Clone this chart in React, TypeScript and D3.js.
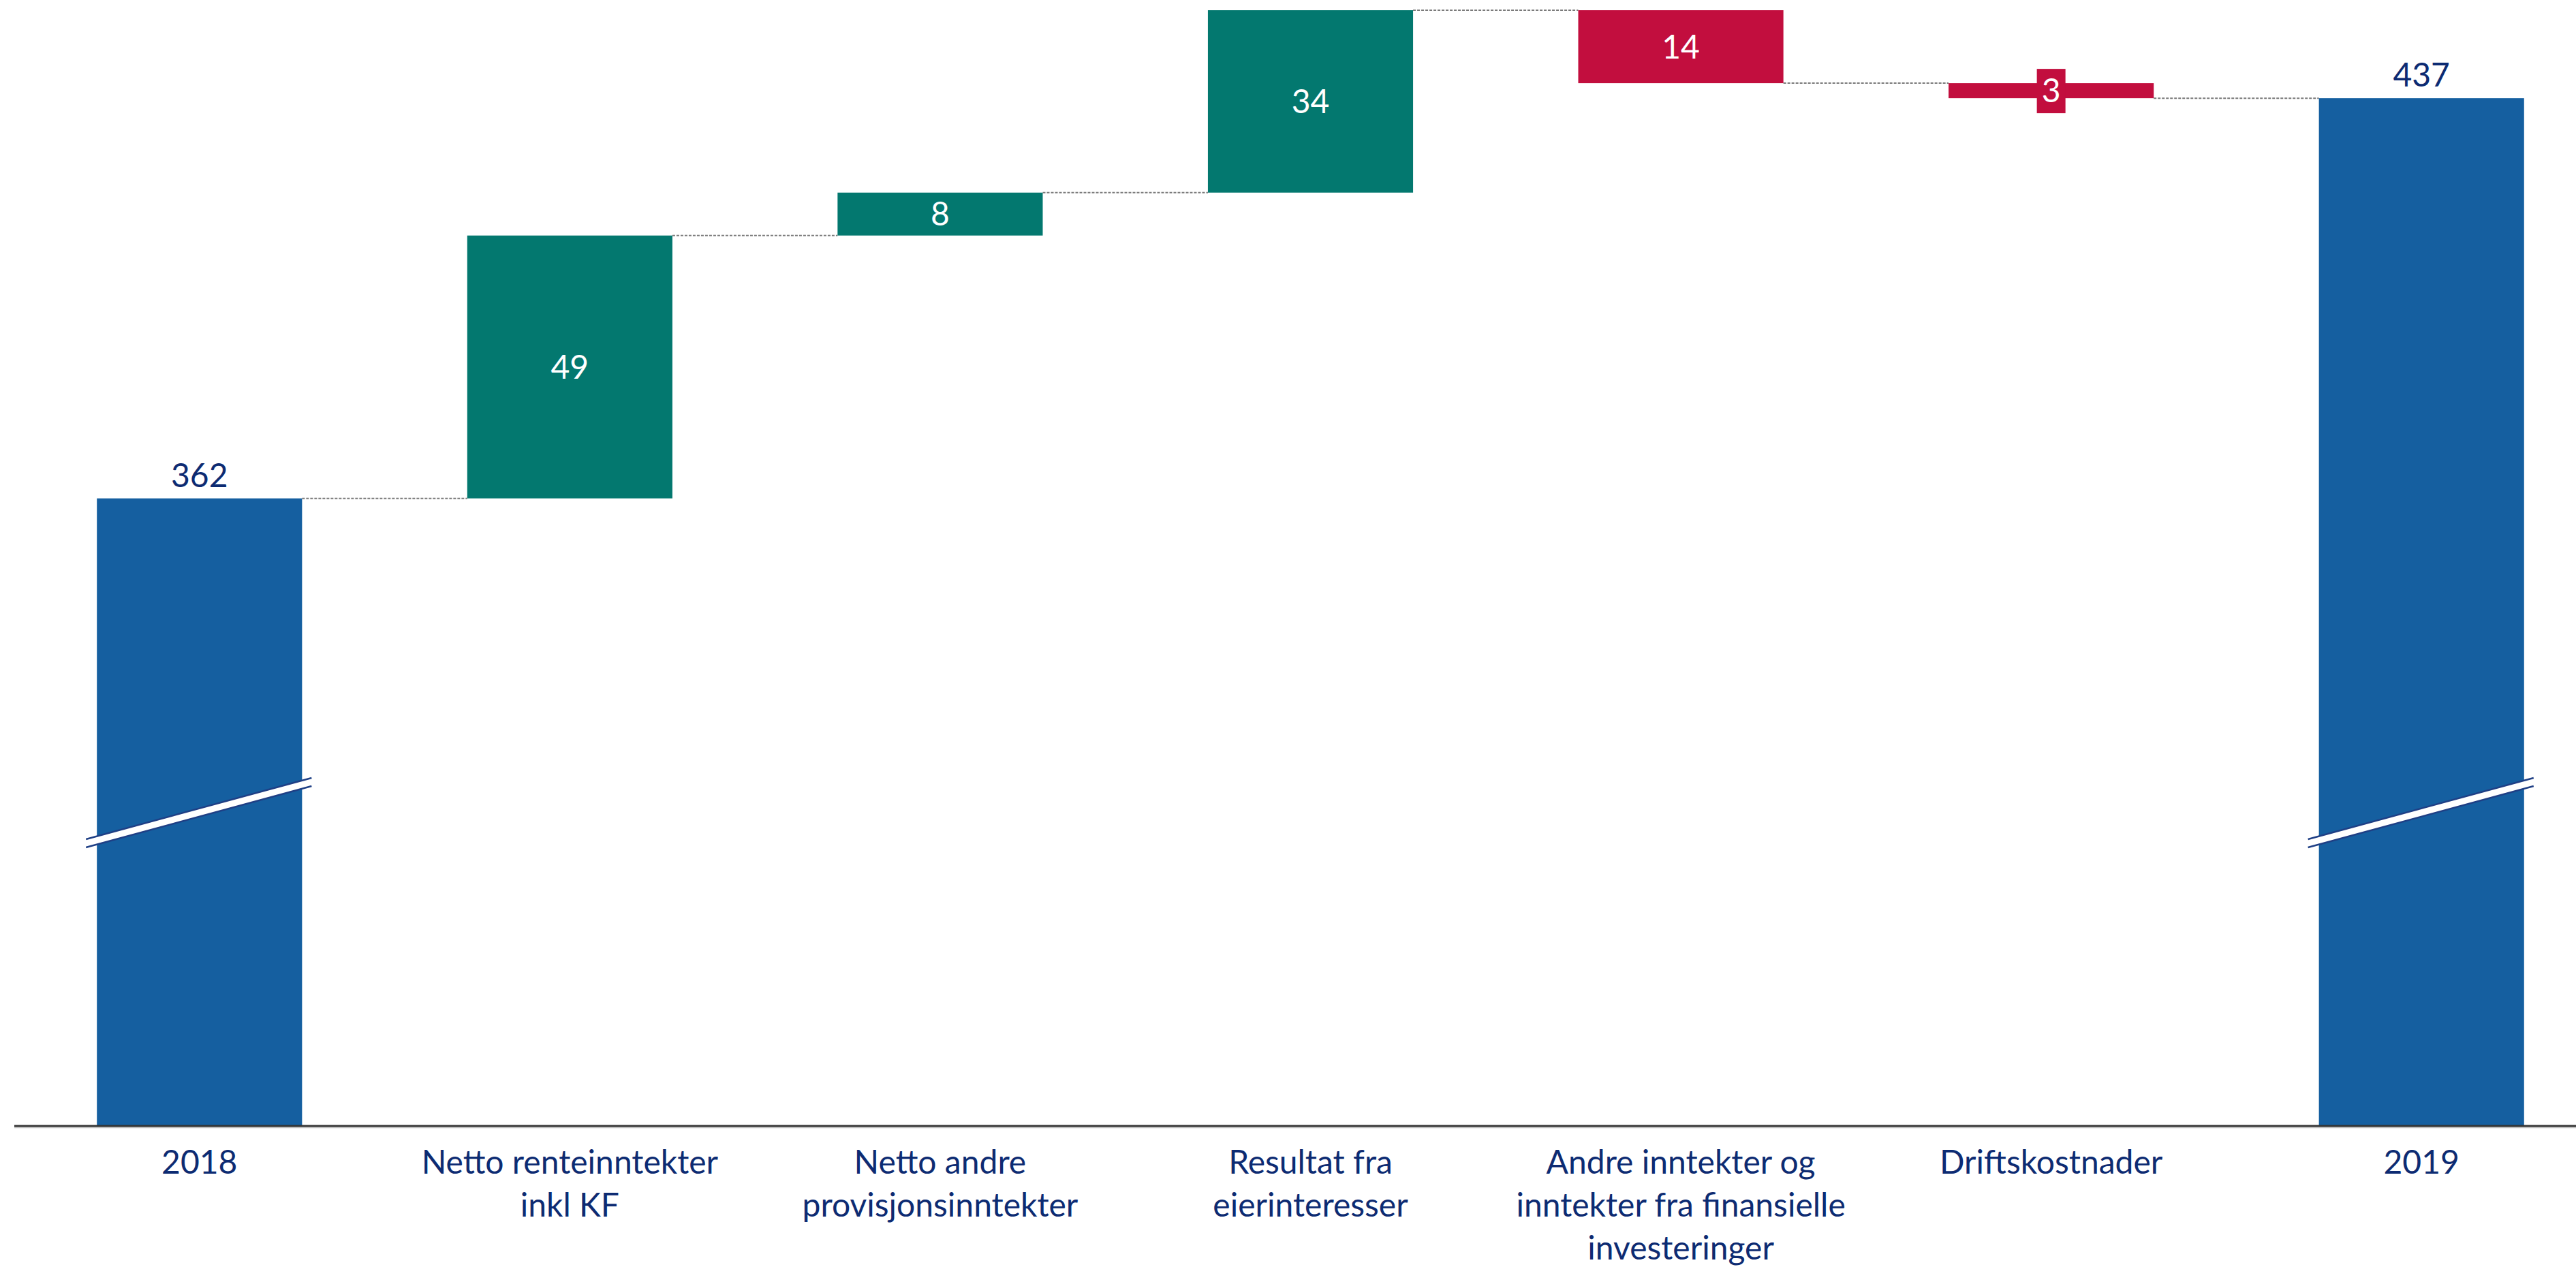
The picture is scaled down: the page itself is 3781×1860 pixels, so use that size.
import React from 'react';
import * as d3 from 'd3';

const categories = ['2018', 'Netto renteinntekter inkl KF', 'Netto andre provisjonsinntekter', 'Resultat fra eierinteresser', 'Andre inntekter og inntekter fra finansielle investeringer', 'Driftskostnader', '2019'];
const labelLines = [
  ['2018'],
  ['Netto renteinntekter', 'inkl KF'],
  ['Netto andre', 'provisjonsinntekter'],
  ['Resultat fra', 'eierinteresser'],
  ['Andre inntekter og', 'inntekter fra finansielle', 'investeringer'],
  ['Driftskostnader'],
  ['2019'],
];
const startValue = 362;
const deltas = [49, 8, 34, -13.6, -2.8];
const valueLabels = ['362', '49', '8', '34', '14', '3', '437'];

const W = 3781;
const H = 1860;
const FONT = 'Lato, "Open Sans", sans-serif';
const BLUE = '#155FA0';
const TEAL = '#03786F';
const RED = '#C20E3E';
const NAVY = '#0D2B72';

export default function App() {
  const x = d3.scaleBand<string>().domain(categories).range([21, 3826]).paddingInner(0.446).paddingOuter(0.223);
  const y = d3.scaleLinear().domain([245, 453]).range([1653, 15]);

  type Bar = { cat: string; lo: number; hi: number; kind: string; label: string; lines: string[]; level: number };
  const bars: Bar[] = [];
  let run = startValue;
  bars.push({ cat: categories[0], lo: y.domain()[0], hi: startValue, kind: 'total', label: valueLabels[0], lines: labelLines[0], level: startValue });
  deltas.forEach((d, i) => {
    const next = run + d;
    bars.push({ cat: categories[i + 1], lo: Math.min(run, next), hi: Math.max(run, next), kind: d >= 0 ? 'up' : 'down', label: valueLabels[i + 1], lines: labelLines[i + 1], level: next });
    run = next;
  });
  bars.push({ cat: categories[6], lo: y.domain()[0], hi: run, kind: 'total', label: valueLabels[6], lines: labelLines[6], level: run });

  const bw = x.bandwidth();
  const color = (k: string) => (k === 'total' ? BLUE : k === 'up' ? TEAL : RED);
  const axisY = y(y.domain()[0]);

  return (
    <svg width={W} height={H} style={{ position: 'absolute', left: 0, top: 0, background: '#fff' }} fontFamily={FONT}>
      <rect x={0} y={0} width={W} height={H} fill="#fff" />
      {/* connectors */}
      {bars.slice(0, -1).map((b, i) => {
        const x1 = (x(b.cat) as number) + bw;
        const x2 = x(bars[i + 1].cat) as number;
        const yy = y(b.level);
        return <line key={'c' + i} x1={x1} x2={x2} y1={yy} y2={yy} stroke="#7a7a7a" strokeWidth={2} strokeDasharray="4,2" />;
      })}
      {/* bars */}
      {bars.map((b, i) => {
        const bx = x(b.cat) as number;
        const top = y(b.hi);
        const bot = y(b.lo);
        return <rect key={'b' + i} x={bx} y={top} width={bw} height={bot - top} fill={color(b.kind)} />;
      })}
      {/* breaks on total bars */}
      {bars.filter((b) => b.kind === 'total').map((b, i) => {
        const L = (x(b.cat) as number) - 16;
        const R = (x(b.cat) as number) + bw + 14;
        const yl = 1238;
        const yr = 1148;
        const g = 6;
        return (
          <g key={'br' + i}>
            <polygon points={`${L},${yl - g} ${R},${yr - g} ${R},${yr + g} ${L},${yl + g}`} fill="#fff" />
            <line x1={L} y1={yl - g} x2={R} y2={yr - g} stroke="#1F3F85" strokeWidth={2.5} />
            <line x1={L} y1={yl + g} x2={R} y2={yr + g} stroke="#1F3F85" strokeWidth={2.5} />
          </g>
        );
      })}
      {/* axis */}
      <line x1={21} x2={W} y1={axisY} y2={axisY} stroke="#333" strokeWidth={3} />
      <line x1={21} x2={W} y1={axisY + 2.5} y2={axisY + 2.5} stroke="#c8c8c8" strokeWidth={1.5} />
      {/* value labels */}
      {bars.map((b, i) => {
        const cx = (x(b.cat) as number) + bw / 2;
        if (b.kind === 'total') {
          return (
            <text key={'v' + i} x={cx} y={y(b.hi) - 17} textAnchor="middle" fontSize={48} fill={NAVY}>
              {b.label}
            </text>
          );
        }
        const top = y(b.hi);
        const bot = y(b.lo);
        const cy = (top + bot) / 2;
        const small = bot - top < 50;
        return (
          <g key={'v' + i}>
            {small && <rect x={cx - 21} y={cy - 32} width={42} height={65} fill={color(b.kind)} />}
            <text x={cx} y={cy + 17} textAnchor="middle" fontSize={48} fill="#fff">
              {b.label}
            </text>
          </g>
        );
      })}
      {/* category labels */}
      {bars.map((b, i) => {
        const cx = (x(b.cat) as number) + bw / 2;
        return (
          <text key={'l' + i} textAnchor="middle" fontSize={48} fill={NAVY}>
            {b.lines.map((ln, j) => (
              <tspan key={j} x={cx} y={1723 + j * 63}>
                {ln}
              </tspan>
            ))}
          </text>
        );
      })}
    </svg>
  );
}
